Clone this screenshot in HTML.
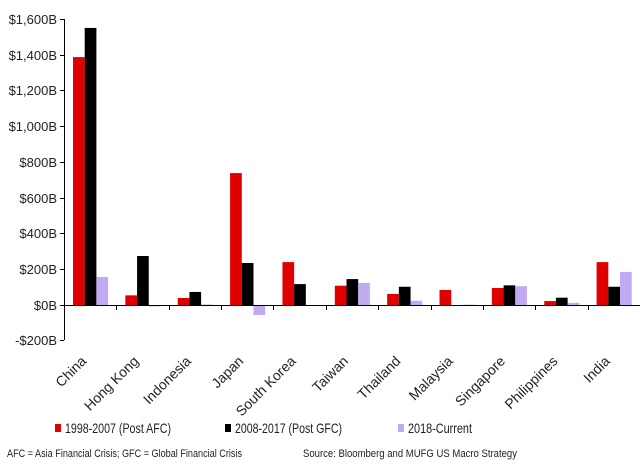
<!DOCTYPE html>
<html><head><meta charset="utf-8"><style>body{margin:0;background:#fff}svg{display:block}</style></head><body>
<svg width="640" height="465" xmlns="http://www.w3.org/2000/svg" font-family="Liberation Sans, sans-serif">
<rect width="640" height="465" fill="#fff"/>
<g font-size="13" fill="#222" text-anchor="end">
<text x="57" y="24">$1,600B</text>
<text x="57" y="60">$1,400B</text>
<text x="57" y="95">$1,200B</text>
<text x="57" y="131">$1,000B</text>
<text x="57" y="167">$800B</text>
<text x="57" y="203">$600B</text>
<text x="57" y="238">$400B</text>
<text x="57" y="274">$200B</text>
<text x="57" y="310">$0B</text>
<text x="57" y="345">-$200B</text>
</g>
<g stroke="#000" stroke-width="1">
<line x1="64.5" y1="19" x2="64.5" y2="340"/>
<line x1="60" y1="19.5" x2="64" y2="19.5"/><line x1="60" y1="55.5" x2="64" y2="55.5"/><line x1="60" y1="90.5" x2="64" y2="90.5"/><line x1="60" y1="126.5" x2="64" y2="126.5"/><line x1="60" y1="162.5" x2="64" y2="162.5"/><line x1="60" y1="198.5" x2="64" y2="198.5"/><line x1="60" y1="233.5" x2="64" y2="233.5"/><line x1="60" y1="269.5" x2="64" y2="269.5"/><line x1="60" y1="305.5" x2="64" y2="305.5"/><line x1="60" y1="340.5" x2="64" y2="340.5"/>
</g>
<g id="bars"></g>
<g stroke="#000"><line x1="64" y1="305.5" x2="640" y2="305.5"/></g>
<g id="ticks" stroke="#000"></g>
<g id="labels" font-size="14" fill="#222" text-anchor="end"></g>
<rect x="55" y="424" width="6" height="8" fill="#e00000"/>
<text x="65" y="433" font-size="14" fill="#222" textLength="106" lengthAdjust="spacingAndGlyphs">1998-2007 (Post AFC)</text>
<rect x="225" y="424" width="6" height="8" fill="#000"/>
<text x="235" y="433" font-size="14" fill="#222" textLength="107" lengthAdjust="spacingAndGlyphs">2008-2017 (Post GFC)</text>
<rect x="398" y="424" width="6" height="8" fill="#c0aaf0"/>
<text x="408" y="433" font-size="14" fill="#222" textLength="64" lengthAdjust="spacingAndGlyphs">2018-Current</text>
<text x="7" y="457" font-size="11" fill="#222" textLength="235" lengthAdjust="spacingAndGlyphs">AFC = Asia Financial Crisis; GFC = Global Financial Crisis</text>
<text x="303" y="457" font-size="11" fill="#222" textLength="214" lengthAdjust="spacingAndGlyphs">Source: Bloomberg and MUFG US Macro Strategy</text>
<script>
var d=[["China",1387,1550,157],["Hong Kong",54,274,-8],["Indonesia",39,73,3],["Japan",738,235,-56],["South Korea",240,117,0],["Taiwan",108,145,123],["Thailand",62,102,24],["Malaysia",84,-5,2],["Singapore",95,110,105],["Philippines",22,41,12],["India",240,102,185]];
var ns="http://www.w3.org/2000/svg",cols=["#e00000","#000","#c0aaf0"],w=52.36,s=0.17875,z=305;
var B=document.getElementById("bars"),T=document.getElementById("ticks"),L=document.getElementById("labels");
d.forEach(function(r,i){var x0=64+i*w;
for(var k=0;k<3;k++){var v=r[k+1],h=Math.abs(v)*s;var e=document.createElementNS(ns,"rect");
e.setAttribute("x",x0+9+k*11.7);e.setAttribute("width",11.7);e.setAttribute("y",v>=0?z-h:z);e.setAttribute("height",Math.max(h,0.8));e.setAttribute("fill",cols[k]);B.appendChild(e);}
var t=document.createElementNS(ns,"line");var tx=Math.round(x0+w)+0.5;t.setAttribute("x1",tx);t.setAttribute("x2",tx);t.setAttribute("y1",305);t.setAttribute("y2",310);T.appendChild(t);
var c=x0+w/2-3,tt=document.createElementNS(ns,"text");tt.setAttribute("x",c);tt.setAttribute("y",362);tt.setAttribute("transform","rotate(-45 "+c+" 362)");tt.textContent=r[0];L.appendChild(tt);});
</script>
</svg>
</body></html>
